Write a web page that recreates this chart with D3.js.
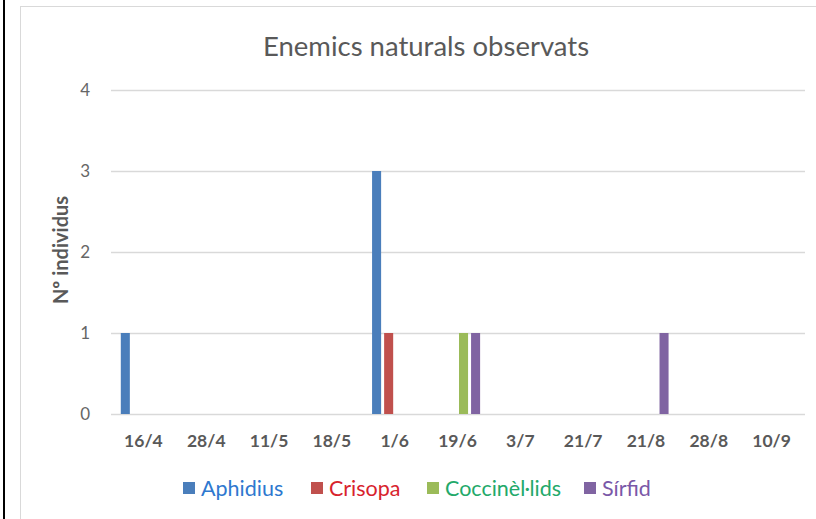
<!DOCTYPE html>
<html>
<head>
<meta charset="utf-8">
<script src="https://cdn.jsdelivr.net/npm/d3@7"></script>
<style>
  body { margin: 0; background: #fff; }
  svg { display: block; font-family: Lato, "Open Sans", sans-serif; }
</style>
</head>
<body>
<div id="chart"></div>
<script>
var dates = ["16/4", "28/4", "11/5", "18/5", "1/6", "19/6", "3/7", "21/7", "21/8", "28/8", "10/9"];
var seriesNames = ["Aphidius", "Crisopa", "Coccinèl·lids", "Sírfid"];
var aphidius = [1, 0, 0, 0, 3, 0, 0, 0, 0, 0, 0];
var crisopa = [0, 0, 0, 0, 1, 0, 0, 0, 0, 0, 0];
var coccinellids = [0, 0, 0, 0, 0, 1, 0, 0, 0, 0, 0];
var sirfid = [0, 0, 0, 0, 0, 1, 0, 0, 1, 0, 0];
var yTicks = [0, 1, 2, 3, 4];

var barColors = ["#4a7ebb", "#c0504d", "#9bbb59", "#8064a2"];
var textColors = ["#2e78cf", "#d8232d", "#23a96a", "#7a58a8"];

var width = 816,
    height = 519;

var svg = d3.select("#chart")
    .append("svg")
    .attr("width", width)
    .attr("height", height)

// outer black edge + chart frame
svg.append("rect").attr("x", 3).attr("y", 0).attr("width", 2).attr("height", height).attr("fill", "#000")
svg.append("rect")
    .attr("x", 20.5).attr("y", 6.5)
    .attr("width", 820).attr("height", 530)
    .attr("fill", "none").attr("stroke", "#d9d9d9")

var values = [aphidius, crisopa, coccinellids, sirfid]
var table = dates.map(function(d, i) {
    return { date: d, vals: values.map(function(s) { return s[i] }) }
})

var x = d3.scaleBand().domain(dates).range([112, 803]).paddingInner(0.28).paddingOuter(0.14)
var xSub = d3.scaleBand().domain(d3.range(seriesNames.length)).range([0, x.bandwidth()]).paddingInner(0.25)
var y = d3.scaleLinear().domain([0, 4]).range([414, 90])

// gridlines
svg.append("g")
    .selectAll("line")
    .data(yTicks)
    .enter().append("line")
    .attr("x1", 111).attr("x2", 805)
    .attr("y1", function(d) { return Math.round(y(d)) + 0.5 })
    .attr("y2", function(d) { return Math.round(y(d)) + 0.5 })
    .attr("stroke", "#d9d9d9")
    .attr("stroke-width", 1.3)

// y tick labels
svg.append("g")
    .selectAll("text")
    .data(yTicks)
    .enter().append("text")
    .attr("x", 90)
    .attr("y", function(d) { return y(d) + 6 })
    .attr("text-anchor", "end")
    .attr("font-size", 17)
    .attr("fill", "#666")
    .text(function(d) { return d })

// bars
var groups = svg.append("g")
    .selectAll("g")
    .data(table)
    .enter().append("g")
    .attr("transform", function(d) { return "translate(" + x(d.date) + ",0)" })

groups.selectAll("rect")
    .data(function(d) { return d.vals.map(function(v, k) { return { k: k, v: v } }) })
    .enter().append("rect")
    .attr("x", function(d) { return xSub(d.k) })
    .attr("width", xSub.bandwidth())
    .attr("y", function(d) { return y(d.v) })
    .attr("height", function(d) { return y(0) - y(d.v) })
    .attr("fill", function(d) { return barColors[d.k] })

// x labels
svg.append("g")
    .selectAll("text")
    .data(dates)
    .enter().append("text")
    .attr("x", function(d) { return x(d) + x.bandwidth() / 2 })
    .attr("y", 447)
    .attr("text-anchor", "middle")
    .attr("font-size", 17.5)
    .attr("font-weight", "bold")
    .attr("fill", "#595959")
    .text(function(d) { return d })

// title
svg.append("text")
    .attr("x", 426).attr("y", 56)
    .attr("text-anchor", "middle")
    .attr("font-size", 27.5)
    .attr("fill", "#595959")
    .text("Enemics naturals observats")

// y axis title
svg.append("text")
    .attr("transform", "translate(68,250) rotate(-90)")
    .attr("text-anchor", "middle")
    .attr("font-size", 20)
    .attr("font-weight", "bold")
    .attr("fill", "#595959")
    .text("Nº individus")

// legend
var legendX = [201, 329, 445, 602]
var legend = svg.append("g")
    .selectAll("g")
    .data(seriesNames)
    .enter().append("g")
    .attr("transform", function(d, i) { return "translate(" + legendX[i] + ",482)" })

legend.append("rect")
    .attr("x", -18)
    .attr("width", 12).attr("height", 12)
    .attr("fill", function(d, i) { return barColors[i] })

legend.append("text")
    .attr("y", 13.5)
    .attr("font-size", 21.5)
    .attr("fill", function(d, i) { return textColors[i] })
    .text(function(d) { return d })
</script>
</body>
</html>
